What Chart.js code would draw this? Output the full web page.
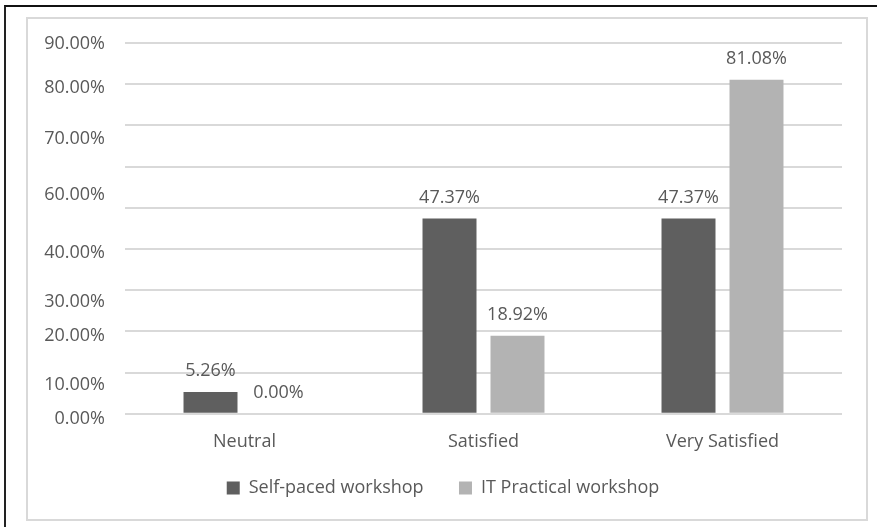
<!DOCTYPE html>
<html lang="en">
<head>
    <meta charset="UTF-8">
    <title>Workshop Satisfaction</title>
    <script src="https://cdn.jsdelivr.net/npm/chart.js"></script>
    <style>
        body { margin: 0; background: #fff; }
        #outer {
            position: absolute; left: 4px; top: 5px; width: 1000px; height: 700px;
            border-top: 2px solid #111; border-left: 2px solid #222;
        }
        #frame {
            position: absolute; left: 26px; top: 17px; width: 842px; height: 504px;
            box-sizing: border-box; border: 2px solid #d9d9d9; background: #fff;
        }
        #frame canvas { display: block; }
    </style>
</head>
<body>
<div id="outer"></div>
<div id="frame">
    <canvas id="myChart" width="838" height="500"></canvas>
</div>

<script>
    const categories = ["Neutral", "Satisfied", "Very Satisfied"];
    const selfPaced = [5.26, 47.37, 47.37];
    const itPractical = [0.00, 18.92, 81.08];

    // y-axis labels and the values they sit at
    const tickLabels = ["0.00%", "10.00%", "20.00%", "30.00%", "40.00%", "60.00%", "70.00%", "80.00%", "90.00%"];
    const tickLabelAt = [-1.2, 7.1, 19.0, 27.2, 39.1, 53.2, 66.7, 79.1, 89.8];

    const textColor = "#595959";
    const fontFamily = "'Open Sans', sans-serif";

    // writes each bar's value above it
    const valueLabels = {
        id: "valueLabels",
        afterDatasetsDraw(chart) {
            const ctx = chart.ctx;
            ctx.save();
            ctx.font = "18px " + fontFamily;
            ctx.fillStyle = textColor;
            ctx.textAlign = "center";
            ctx.textBaseline = "middle";
            chart.data.datasets.forEach((ds, i) => {
                chart.getDatasetMeta(i).data.forEach((bar, j) => {
                    ctx.fillText(ds.data[j].toFixed(2) + "%", bar.x, bar.y - 21);
                });
            });
            ctx.restore();
        }
    };

    new Chart(document.getElementById("myChart"), {
        type: "bar",
        data: {
            labels: categories,
            datasets: [{
                label: "Self-paced workshop",
                data: selfPaced,
                backgroundColor: "#5f5f5f"
            }, {
                label: "IT Practical workshop",
                data: itPractical,
                backgroundColor: "#b3b3b3"
            }]
        },
        options: {
            responsive: false,
            animation: false,
            devicePixelRatio: 1,
            categoryPercentage: 0.569,
            barPercentage: 0.794,
            layout: { padding: { left: 16, right: 24, top: 24, bottom: 12 } },
            plugins: {
                tooltip: { enabled: false },
                legend: {
                    position: "bottom",
                    labels: {
                        boxWidth: 13,
                        boxHeight: 13,
                        padding: 16.7,
                        color: textColor,
                        font: { family: fontFamily, size: 18 },
                        // wider gap after the first entry
                        generateLabels(chart) {
                            const items = Chart.defaults.plugins.legend.labels.generateLabels(chart);
                            items[0].text += "    ";
                            return items;
                        }
                    }
                }
            },
            scales: {
                x: {
                    grid: { display: false },
                    border: { display: false },
                    ticks: {
                        color: textColor,
                        padding: 9.5,
                        font: { family: fontFamily, size: 18 }
                    }
                },
                y: {
                    min: 0,
                    max: 90,
                    grid: { color: "#d9d9d9", lineWidth: 2, drawTicks: false },
                    border: { display: false },
                    ticks: { display: false, stepSize: 10 }
                },
                yLabels: {
                    position: "left",
                    min: 0,
                    max: 90,
                    grid: { display: false, drawTicks: false },
                    border: { display: false },
                    afterBuildTicks(scale) {
                        scale.ticks = tickLabelAt.map(v => ({ value: v }));
                    },
                    // fixed label column; plot height comes from layout padding
                    afterFit(scale) {
                        scale.width = 81;
                        scale.paddingTop = 0;
                        scale.paddingBottom = 0;
                    },
                    ticks: {
                        autoSkip: false,
                        padding: 20,
                        color: textColor,
                        font: { family: fontFamily, size: 18 },
                        callback: (value, index) => tickLabels[index]
                    }
                }
            }
        },
        plugins: [valueLabels]
    });
</script>
</body>
</html>
